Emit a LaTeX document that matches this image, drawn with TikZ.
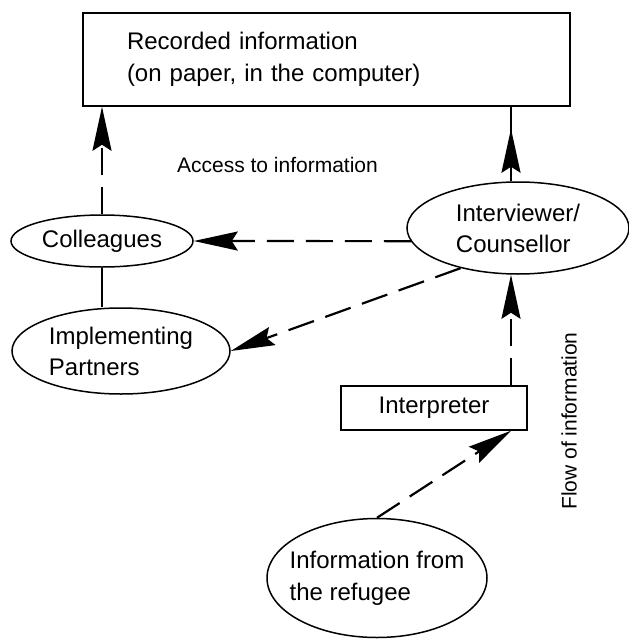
\documentclass[tikz,border=0pt]{standalone}
\usepackage{fontspec}
\setmainfont{Liberation Sans}
\usetikzlibrary{arrows.meta,shapes.geometric}
\begin{document}
\begin{tikzpicture}[x=1pt,y=-1pt,
  every node/.style={font=\fontsize{24}{31}\selectfont},
  ell/.style={draw,ellipse,line width=1.5pt,inner sep=0pt},
  boxn/.style={draw,rectangle,line width=1.5pt,inner sep=0pt},
  conn/.style={line width=2.2pt},
  dsh/.style={conn,dash pattern=on 27pt off 12pt},
  tip/.style={-{Stealth[length=44pt,width=19pt,inset=6pt]}},
  lbl/.style={font=\fontsize{21}{25}\selectfont}
]
\useasboundingbox (0,0) rectangle (629,640);

\node[boxn, minimum width=487pt, minimum height=93pt, text width=399pt, inner xsep=44pt, align=left, font=\fontsize{24}{32}\selectfont] (rec) at (326.5,59.5) {Recorded information\\(on paper, in the computer)};
\node[ell, minimum width=182pt, minimum height=52pt] (coll) at (102,241) {Colleagues};
\node[ell, minimum width=218pt, minimum height=86pt, align=left] (impl) at (121,351) {Implementing\\Partners};
\node[ell, minimum width=222pt, minimum height=92pt, align=left] (intv) at (518,228) {Interviewer/\\Counsellor};
\node[boxn, minimum width=186pt, minimum height=44pt] (interp) at (434,408) {Interpreter};
\node[ell, minimum width=220pt, minimum height=119pt, inner xsep=-20pt, align=left, font=\fontsize{24}{32}\selectfont] (info) at (377,578) {Information from\\the refugee};
\node[lbl, rotate=90] (flow) at (569,421) {Flow of information};
\node[lbl] (access) at (277.5,165) {Access to information};

\coordinate (ax) at (511,0);
\draw[dsh,tip] (coll.north) -- (coll.north |- rec.south);
\draw[conn] (intv.north -| ax) -- (rec.south -| ax);
\draw[conn,tip,shorten >=22pt] (intv.north -| ax) -- (rec.south -| ax);
\draw[dsh,tip] (intv.187) -- (coll.east);
\draw[dsh,tip] (intv.215) -- (impl.east);
\draw[dsh,tip] (interp.north -| ax) -- (intv.south -| ax);
\draw[dsh,tip] (info.north) -- (interp.south -| ax);
\draw[conn] (coll.south) -- (coll.south |- impl.north);
\end{tikzpicture}
\end{document}
